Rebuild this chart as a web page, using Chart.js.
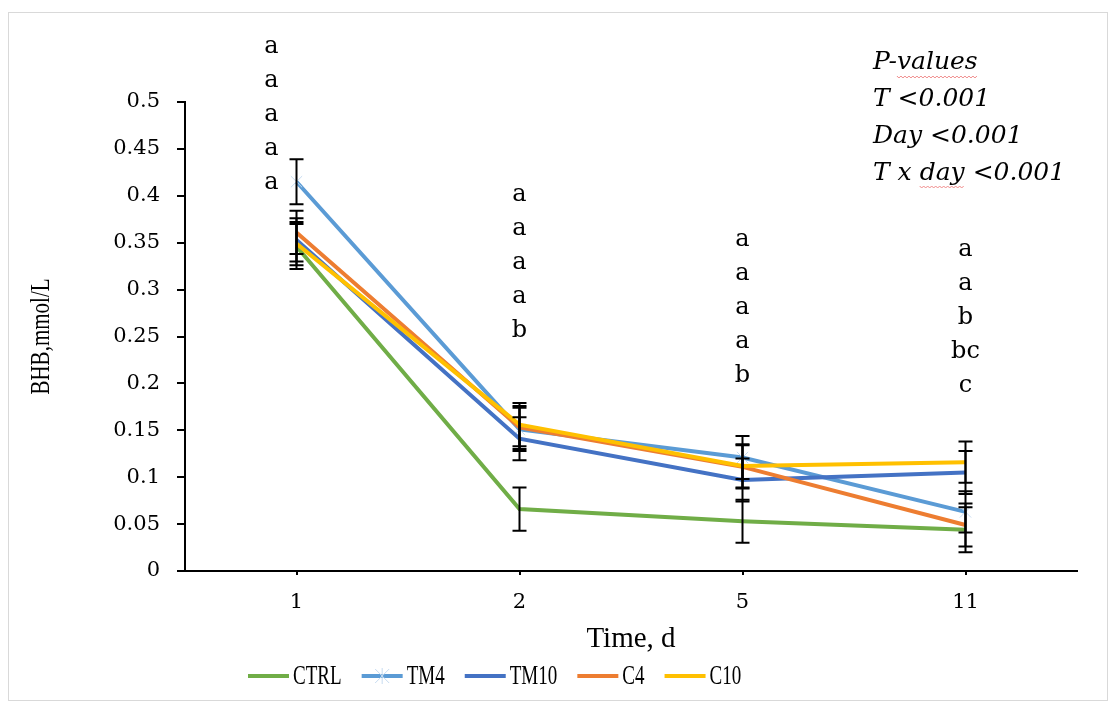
<!DOCTYPE html>
<html>
<head>
<meta charset="utf-8">
<script src="https://cdn.jsdelivr.net/npm/chart.js@4"></script>
<style>
  html, body { margin: 0; padding: 0; background: #fff; }
</style>
</head>
<body>
<canvas id="chart" width="1115" height="707"></canvas>
<script>
// data
const days = ['1', '2', '5', '11'];

const ctrl = [0.346, 0.066, 0.053, 0.044];
const tm4  = [0.415, 0.151, 0.121, 0.063];
const tm10 = [0.353, 0.141, 0.097, 0.105];
const c4   = [0.361, 0.153, 0.111, 0.049];
const c10  = [0.349, 0.156, 0.112, 0.116];

// standard errors (half length of each bar)
const ctrlErr = [0.024, 0.023, 0.023, 0.024];
const tm4Err  = [0.024, 0.023, 0.023, 0.022];
const tm10Err = [0.023, 0.023, 0.023, 0.023];
const c4Err   = [0.023, 0.023, 0.023, 0.023];
const c10Err  = [0.023, 0.023, 0.023, 0.022];

// significance letters per day, top letter value on the y axis
const letters = [
    ['a', 'a', 'a', 'a', 'a'],
    ['a', 'a', 'a', 'a', 'b'],
    ['a', 'a', 'a', 'a', 'b'],
    ['a', 'a', 'b', 'bc', 'c']
];
const letterTop = [0.559, 0.401, 0.353, 0.342];
const letterShift = [-25, 0, 0, 0];

const pValues = ['P-values', 'T <0.001', 'Day <0.001', 'T x day <0.001'];
const yTitle = 'BHB,mmol/L';

const serif = '"DejaVu Serif", serif';
const serif2 = '"Liberation Serif", serif';


const errorBars = {
    id: 'errorBars',
    afterDatasetsDraw(chart) {
        const ctx = chart.ctx;
        const x = chart.scales.x, y = chart.scales.y;
        ctx.save();
        ctx.strokeStyle = '#000';
        ctx.lineWidth = 2;
        chart.data.datasets.forEach(ds => {
            ds.data.forEach((v, i) => {
                const px = x.getPixelForValue(i);
                const hi = y.getPixelForValue(v + ds.err[i]);
                const lo = y.getPixelForValue(v - ds.err[i]);
                ctx.beginPath();
                ctx.moveTo(px, hi); ctx.lineTo(px, lo);
                ctx.moveTo(px - 7, hi); ctx.lineTo(px + 7, hi);
                ctx.moveTo(px - 7, lo); ctx.lineTo(px + 7, lo);
                ctx.stroke();
            });
        });
        ctx.restore();
    }
};

function wavy(ctx, x1, x2, y) {
    ctx.beginPath();
    for (let x = x1, k = 0; x <= x2; x += 2, k++) {
        const yy = y + (k % 2 ? 1 : -1);
        if (k === 0) ctx.moveTo(x, yy); else ctx.lineTo(x, yy);
    }
    ctx.stroke();
}

function star(ctx, cx, cy) {
    ctx.save();
    ctx.strokeStyle = '#c6dbf0';
    ctx.lineWidth = 1;
    ctx.beginPath();
    ctx.moveTo(cx, cy - 8); ctx.lineTo(cx, cy + 8);
    ctx.moveTo(cx - 7, cy - 7); ctx.lineTo(cx + 7, cy + 7);
    ctx.moveTo(cx - 7, cy + 7); ctx.lineTo(cx + 7, cy - 7);
    ctx.stroke();
    ctx.restore();
}

const annotations = {
    id: 'annotations',
    beforeDraw(chart) {
        const ctx = chart.ctx;
        ctx.save();
        ctx.strokeStyle = '#d9d9d9';
        ctx.lineWidth = 1;
        ctx.strokeRect(8.5, 12.5, 1099, 688);
        ctx.restore();
    },
    afterDraw(chart) {
        const ctx = chart.ctx;
        const x = chart.scales.x, y = chart.scales.y;
        const squeeze = 0.68;
        ctx.save();
        // letters
        ctx.fillStyle = '#000';
        ctx.font = '24px ' + serif;
        ctx.textAlign = 'center';
        ctx.textBaseline = 'middle';
        letters.forEach((col, i) => {
            const px = x.getPixelForValue(i) + letterShift[i];
            const top = y.getPixelForValue(letterTop[i]);
            col.forEach((t, j) => ctx.fillText(t, px, top + j * 34));
        });

        // y axis title, narrow serif
        ctx.save();
        ctx.font = '28px ' + serif2;
        ctx.translate(41, (y.top + y.bottom) / 2);
        ctx.rotate(-Math.PI / 2);
        ctx.scale(squeeze + 0.07, 1);
        ctx.fillText(yTitle, 0, 1);
        ctx.restore();

        // p-values box
        ctx.font = 'italic 25px ' + serif;
        ctx.textAlign = 'left';
        const left = 873;
        pValues.forEach((t, j) => ctx.fillText(t, left, 62 + j * 37));
        ctx.strokeStyle = '#f08a8a';
        ctx.lineWidth = 1;
        const pw = ctx.measureText('P-').width;
        wavy(ctx, left + pw, left + ctx.measureText('P-values').width, 77);
        const tw = ctx.measureText('T x ').width;
        wavy(ctx, left + tw, left + ctx.measureText('T x day').width, 187);

        // legend, narrow serif like the original
        const ly = 676;
        let lx = 248;
        ctx.font = '28px ' + serif2;
        chart.data.datasets.forEach(ds => {
            ctx.strokeStyle = ds.borderColor;
            ctx.lineWidth = 4;
            ctx.beginPath();
            ctx.moveTo(lx, ly); ctx.lineTo(lx + 41, ly);
            ctx.stroke();
            if (ds.pointStyle === 'crossRot') star(ctx, lx + 20.5, ly);
            lx += 45;
            ctx.save();
            ctx.translate(lx, ly);
            ctx.scale(squeeze, 1);
            ctx.fillStyle = '#000';
            ctx.fillText(ds.label, 0, 1);
            ctx.restore();
            lx += ctx.measureText(ds.label).width * squeeze + 20;
        });
        ctx.restore();
    }
};

function line(label, data, err, color, order) {
    return {
        label: label,
        data: data,
        err: err,
        borderColor: color,
        backgroundColor: color,
        borderWidth: 4,
        pointRadius: 0,
        tension: 0,
        order: order
    };
}

const tm4Set = line('TM4', tm4, tm4Err, '#5b9bd5', 4);
tm4Set.pointStyle = 'crossRot';
tm4Set.pointRadius = 8;
tm4Set.pointBorderWidth = 1;
tm4Set.pointBorderColor = '#c6dbf0';

new Chart(document.getElementById('chart'), {
    type: 'line',
    data: {
        labels: days,
        datasets: [
            line('CTRL', ctrl, ctrlErr, '#70ad47', 5),
            tm4Set,
            line('TM10', tm10, tm10Err, '#4472c4', 3),
            line('C4', c4, c4Err, '#ed7d31', 2),
            line('C10', c10, c10Err, '#ffc000', 1)
        ]
    },
    options: {
        responsive: false,
        animation: false,
        layout: { padding: { left: 28, right: 38, top: 102, bottom: 52 } },
        plugins: {
            legend: { display: false },
            tooltip: { enabled: false }
        },
        scales: {
            x: {
                offset: true,
                afterFit: s => { s.height = 84; },
                grid: { drawOnChartArea: false, color: '#000', lineWidth: 2, tickLength: 4 },
                border: { color: '#000', width: 2 },
                ticks: { color: '#000', padding: 15, font: { family: serif, size: 21 } },
                title: {
                    display: true, text: 'Time, d', color: '#000',
                    font: { family: serif2, size: 29 }, padding: { top: 0, bottom: -2 }
                }
            },
            y: {
                min: 0,
                max: 0.5,
                afterFit: s => { s.width = 157; },
                grid: { drawOnChartArea: false, color: '#000', lineWidth: 2, tickLength: 8 },
                border: { color: '#000', width: 2 },
                ticks: {
                    stepSize: 0.05, color: '#000', padding: 17,
                    font: { family: serif, size: 21 },
                    callback: v => String(+v.toFixed(2))
                }
            }
        }
    },
    plugins: [errorBars, annotations]
});
</script>
</body>
</html>
